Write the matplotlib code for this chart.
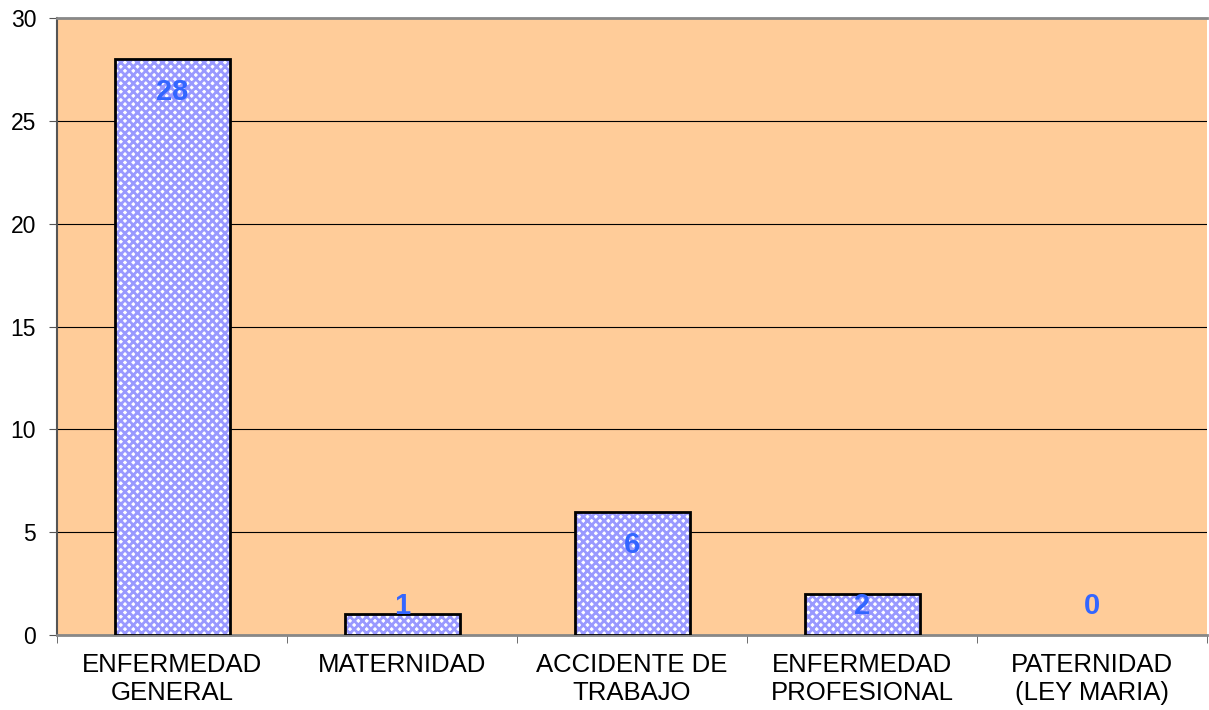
import numpy as np
import matplotlib.pyplot as plt
from matplotlib import font_manager

categories = ["ENFERMEDAD\nGENERAL", "MATERNIDAD", "ACCIDENTE DE\nTRABAJO",
              "ENFERMEDAD\nPROFESIONAL", "PATERNIDAD\n(LEY MARIA)"]
values = [28, 1, 6, 2, 0]

plt.rcParams['font.family'] = ['Liberation Sans', 'DejaVu Sans']
plt.rcParams['hatch.linewidth'] = 2.0

# pick the regular-width bold face, not the narrow one
bold_file = None
for f in font_manager.findSystemFonts():
    if f.endswith('LiberationSans-Bold.ttf'):
        bold_file = f
label_font = (font_manager.FontProperties(fname=bold_file, size=21)
              if bold_file else font_manager.FontProperties(weight='bold', size=21))

fig = plt.figure(figsize=(12.09, 7.10), dpi=100)
ax = fig.add_axes([57 / 1209, 1 - 635 / 710, 1150 / 1209, 617 / 710])
ax.set_facecolor('#ffcc99')

x = np.arange(len(values))
edge_w = [2 if v > 0 else 0 for v in values]
# checkered fill
ax.bar(x, values, width=0.5, color='white', edgecolor='#9999ff',
       hatch='xxxx', linewidth=0, zorder=3)
ax.bar(x, values, width=0.5, fill=False, edgecolor='black',
       linewidth=edge_w, zorder=4)

for xi, v in zip(x, values):
    ax.text(xi, max(v - 1.6, 1.4), str(v), ha='center', va='center',
            color='#3366ff', fontproperties=label_font, zorder=5)

ax.set_xlim(-0.5, len(values) - 0.5)
ax.set_ylim(0, 30)
ax.set_yticks(range(0, 31, 5))
ax.yaxis.grid(True, color='black', linewidth=0.8)
ax.set_axisbelow(True)

ax.set_xticks(x)
ax.set_xticklabels(categories, fontsize=18.5, linespacing=1.2)
ax.set_xticks(np.arange(-0.5, len(values), 1), minor=True)
ax.tick_params(axis='x', which='major', length=0, pad=13)
ax.tick_params(axis='x', which='minor', length=6, color='#555555')
ax.tick_params(axis='y', labelsize=16.5, length=6, color='#555555', pad=9)

ax.spines['right'].set_visible(False)
ax.spines['top'].set_color('#888888')
ax.spines['top'].set_linewidth(2)
ax.spines['left'].set_color('#555555')
ax.spines['left'].set_linewidth(1.5)
ax.spines['bottom'].set_color('#888888')
ax.spines['bottom'].set_linewidth(2)

fig.savefig('out.png', dpi=100)
